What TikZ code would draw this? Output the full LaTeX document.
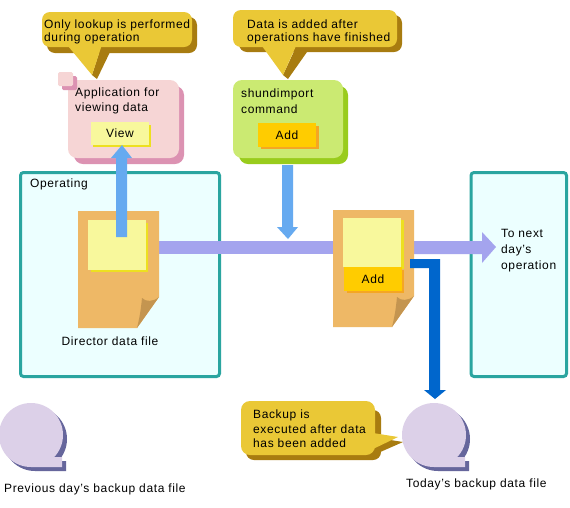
\documentclass[tikz,border=0pt]{standalone}
\usepackage{fontspec}
\setmainfont[LetterSpace=5.2]{Liberation Sans}
\definecolor{gold}{HTML}{EAC836}
\definecolor{goldsh}{HTML}{A87C10}
\definecolor{pinkb}{HTML}{F6D5D5}
\definecolor{pinksh}{HTML}{DC92B2}
\definecolor{greenb}{HTML}{CBEA72}
\definecolor{greensh}{HTML}{99CC1C}
\definecolor{paleY}{HTML}{F8F89C}
\definecolor{yellowsh}{HTML}{EDE020}
\definecolor{amber}{HTML}{FFCC00}
\definecolor{ambersh}{HTML}{F5A623}
\definecolor{teal}{HTML}{2AA5A0}
\definecolor{ice}{HTML}{ECFFFF}
\definecolor{docb}{HTML}{EEB866}
\definecolor{fold}{HTML}{C49550}
\definecolor{violet}{HTML}{A4A4EE}
\definecolor{skyb}{HTML}{66AAF0}
\definecolor{deepb}{HTML}{0066CC}
\definecolor{lilac}{HTML}{DCD0E8}
\definecolor{lilacsh}{HTML}{66669C}
\newcommand{\lblfont}[1]{\fontsize{12}{#1}\selectfont}
\tikzset{x=1pt,y=-1pt,
 txt/.style={anchor=west,inner sep=0pt,font=\lblfont{13},align=left,text=black},
 txtwide/.style={txt,font=\lblfont{15.5}},
 txtwider/.style={txt,font=\lblfont{16}},
 txtmid/.style={txt,font=\lblfont{14.5}},
 zone/.style={draw=teal,line width=3pt,fill=ice,rounded corners=3pt}}
\newcommand{\tape}[3]{% x y colour
 \fill[#3] (#1,#2) circle[radius=32];
 \fill[#3] (#1,#2+32) -- (#1+23,#2+22) -- (#1+31,#2+22) -- (#1+31,#2+32) -- cycle;}
\newcommand{\sheet}[2]{% x y : paper with folded corner
 \fill[docb] (#1,#2) -- (#1+81,#2) -- (#1+81,#2+86) -- (#1+59,#2+117) -- (#1,#2+117) -- cycle;
 \fill[fold] (#1+59,#2+117) .. controls (#1+62,#2+105) and (#1+63,#2+97) .. (#1+64,#2+87) .. controls (#1+68,#2+91) and (#1+75,#2+91) .. (#1+81,#2+86) -- cycle;}
\begin{document}
\begin{tikzpicture}
\useasboundingbox (0,0) rectangle (570,507);
\fill[white] (0,0) rectangle (570,507);
% zones
\draw[zone] (20.5,172.5) rectangle (219.5,376.5);
\draw[zone] (471,172.5) rectangle (566.5,376.5);
\node[txt] (opz) at (30,184) {Operating};
\node[txtwider] (nextz) at (501,250.5) {To next\\day's\\operation};
% purple flow
\fill[violet] (159,241) rectangle (333,254);
\fill[violet] (414,241) -- (482,241) -- (482,232) -- (496,247) -- (482,263) -- (482,254) -- (414,254) -- cycle;
% documents
\sheet{78}{211}
\sheet{333}{210}
\fill[yellowsh] (91,223) rectangle (148,272);
\fill[paleY] (88,220) rectangle (146,270);
\fill[yellowsh] (346,220) rectangle (404,269);
\fill[paleY] (343,218) rectangle (401,267);
\fill[ambersh] (347,270) rectangle (404,293);
\node[fill=amber,minimum width=58pt,minimum height=24pt,inner sep=0pt,font=\lblfont{14}] (addb) at (373,279) {Add\hspace{4pt}};
\node[txt,anchor=center] (dirf) at (110,341) {Director data file};
% pink box
\fill[pinksh,rounded corners=9pt] (74,86) rectangle (184,164);
\fill[pinkb,rounded corners=9pt] (68,80) rectangle (179,158);
\fill[pinksh,rounded corners=1.5pt] (62,76) rectangle (77,90);
\fill[pinkb,rounded corners=1.5pt] (58,72) rectangle (73,86);
\node[txtwide] (appt) at (75,101) {Application for\\viewing data};
\fill[yellowsh] (93,125) rectangle (151,147);
\node[fill=paleY,minimum width=58pt,minimum height=23pt,inner sep=0pt,font=\lblfont{14}] (viewb) at (120,133.5) {View\hspace{2pt}};
% green box
\fill[greensh,rounded corners=9pt] (239,86) rectangle (348,164);
\fill[greenb,rounded corners=9pt] (233,80) rectangle (343,158);
\node[txtwide] (cmdt) at (241,101) {shundimport\\command};
\fill[ambersh] (261,126) rectangle (319,149);
\node[fill=amber,minimum width=58pt,minimum height=24pt,inner sep=0pt,font=\lblfont{14}] (addc) at (287,135) {Add\hspace{4pt}};
% light blue arrows
\fill[skyb] (116,237) -- (116,158) -- (111,158) -- (122,145) -- (132,158) -- (127,158) -- (127,237) -- cycle;
\fill[skyb] (282,165) -- (293,165) -- (293,227) -- (298,227) -- (288,239) -- (277,227) -- (282,227) -- cycle;
% callout 1
\fill[goldsh,rounded corners=8pt] (47,17) rectangle (197,53);
\fill[goldsh] (92,75) -- (97,79) -- (110,52) -- (101,47) -- cycle;
\fill[gold,rounded corners=8pt] (42,12) rectangle (192,47);
\fill[gold] (68,46) -- (92,75) -- (101.5,46) -- cycle;
\node[txt] (c1) at (44,32) {Only lookup is performed\\during operation};
% callout 2
\fill[goldsh,rounded corners=8pt] (239,15) rectangle (402,52);
\fill[goldsh] (283,75) -- (288,79) -- (307,52) -- (296,47) -- cycle;
\fill[gold,rounded corners=8pt] (233,10) rectangle (397,47);
\fill[gold] (262,46) -- (283,75) -- (296,46) -- cycle;
\node[txt] (c2) at (247,32) {Data is added after\\operations have finished};
% deep blue arrow
\fill[deepb] (410,259) -- (440,259) -- (440,390) -- (446,390) -- (435,399) -- (424,390) -- (429,390) -- (429,268) -- (410,268) -- cycle;
% tapes
\tape{35}{439}{lilacsh}
\tape{31}{435}{lilac}
\tape{438}{439}{lilacsh}
\tape{434}{435}{lilac}
% callout 3
\fill[goldsh,rounded corners=8pt] (246,410) rectangle (381,460);
\fill[goldsh] (378,438) -- (403,442) -- (378,453) -- cycle;
\fill[gold,rounded corners=9pt] (241,401) rectangle (375,455);
\fill[gold] (373,433) -- (398,437) -- (373,449) -- cycle;
\node[txtmid] (c3) at (253,429) {Backup is\\executed after data\\has been added};
\node[txt] (prevl) at (4,489) {Previous day's backup data file};
\node[txt] (todayl) at (406,484) {Today's backup data file};
\end{tikzpicture}
\end{document}
